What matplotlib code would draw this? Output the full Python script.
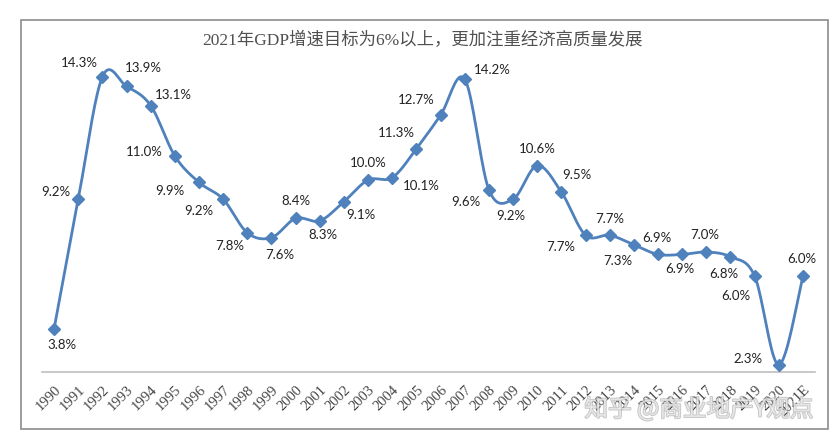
import numpy as np
import matplotlib
matplotlib.use('Agg')
import matplotlib.pyplot as plt
import matplotlib.patheffects as pe
from matplotlib.patches import Rectangle

# 数据
years = ['1990', '1991', '1992', '1993', '1994', '1995', '1996', '1997', '1998', '1999',
         '2000', '2001', '2002', '2003', '2004', '2005', '2006', '2007', '2008', '2009',
         '2010', '2011', '2012', '2013', '2014', '2015', '2016', '2017', '2018', '2019',
         '2020', '2021E']
gdp = [3.8, 9.2, 14.3, 13.9, 13.1, 11.0, 9.9, 9.2, 7.8, 7.6,
       8.4, 8.3, 9.1, 10.0, 10.1, 11.3, 12.7, 14.2, 9.6, 9.2,
       10.6, 9.5, 7.7, 7.7, 7.3, 6.9, 6.9, 7.0, 6.8, 6.0,
       2.3, 6.0]
title = '2021年GDP增速目标为6%以上，更加注重经济高质量发展'
watermark = '知乎 @商业地产Y观点'

# 数据标签偏移（像素）
label_offsets = [(8, -16), (-22, 7), (-23, 14), (17, 18), (23, 11), (-31, 4), (-29, -9), (-24, -12),
                 (-18, -13), (8, -17), (0, 17), (3, -14), (17, -13), (0, 17), (29, -8), (-20, 16),
                 (-24, 15), (28, 9), (-23, -12), (-2, -17), (0, 17), (16, 17), (-25, -12), (0, 16),
                 (-16, -16), (-1, 16), (-2, -15), (-2, 17), (-7, -17), (-19, -20), (-31, 6), (-1, 17)]


def smooth(x, y, n=20):
    """Excel 风格的平滑曲线（Catmull-Rom / Bezier）"""
    x = np.asarray(x, float)
    y = np.asarray(y, float)
    px = np.concatenate([[x[0]], x, [x[-1]]])
    py = np.concatenate([[y[0]], y, [y[-1]]])
    xs, ys = [], []
    t = np.linspace(0, 1, n)
    for i in range(len(x) - 1):
        p0 = np.array([px[i], py[i]])
        p1 = np.array([px[i + 1], py[i + 1]])
        p2 = np.array([px[i + 2], py[i + 2]])
        p3 = np.array([px[i + 3], py[i + 3]])
        c1 = p1 + (p2 - p0) / 6
        c2 = p2 - (p3 - p1) / 6
        b = ((1 - t) ** 3)[:, None] * p1 + (3 * (1 - t) ** 2 * t)[:, None] * c1 \
            + (3 * (1 - t) * t ** 2)[:, None] * c2 + (t ** 3)[:, None] * p2
        xs.extend(b[:, 0])
        ys.extend(b[:, 1])
    return np.array(xs), np.array(ys)


W, H = 838, 443
fig = plt.figure(figsize=(W / 100, H / 100), dpi=100)
fig.patch.set_facecolor('white')

# 外框
fig.patches.append(Rectangle((21 / W, 1 - 429 / H), (828 - 21) / W, (429 - 20) / H,
                             transform=fig.transFigure, fill=False, edgecolor='#8c8c8c', lw=1.2))

ax = fig.add_axes([42 / W, 1 - 372 / H, (815 - 42) / W, (372 - 36) / H])
x = np.arange(len(years))
sx, sy = smooth(x, gdp)
ax.plot(sx, sy, color='#4F81BD', lw=2.0, zorder=2)
ax.plot(x, gdp, linestyle='none', marker='D', ms=6, color='#4F81BD', zorder=3)

for xi, v, (dx, dy) in zip(x, gdp, label_offsets):
    ax.annotate(f'{v:.1f}%', (xi, v), xytext=(dx * 0.72, dy * 0.72), textcoords='offset points',
                ha='center', va='center', fontsize=9.5, family=['Lato', 'DejaVu Sans'], color='#222222')

ax.set_xlim(-0.5, len(years) - 0.5)
ax.set_ylim(2, 16)
ax.set_yticks([])
ax.set_xticks(x)
ax.set_xticklabels(years, rotation=45, ha='right', va='top', rotation_mode='anchor',
                   fontsize=10.5, family=['Liberation Serif'], color='#444444')
ax.tick_params(axis='x', length=0, pad=8)
for s in ['top', 'right', 'left']:
    ax.spines[s].set_visible(False)
ax.spines['bottom'].set_color('#bfbfbf')
ax.spines['bottom'].set_linewidth(1.2)
ax.patch.set_alpha(0)

fig.text(422 / W, 1 - 41 / H, title, ha='center', va='center', fontsize=12.5,
         family=['Liberation Serif', 'Noto Sans CJK SC'], color='#505050')

# 水印（半透明）
fig.text(699 / W, 1 - 409 / H, watermark, ha='center', va='center', fontsize=17,
         family=['Noto Sans CJK SC', 'DejaVu Sans'], color='white', alpha=0.55,
         path_effects=[pe.withStroke(linewidth=1.3, foreground='#9a9a9a')])

fig.savefig('out.png', dpi=100)
